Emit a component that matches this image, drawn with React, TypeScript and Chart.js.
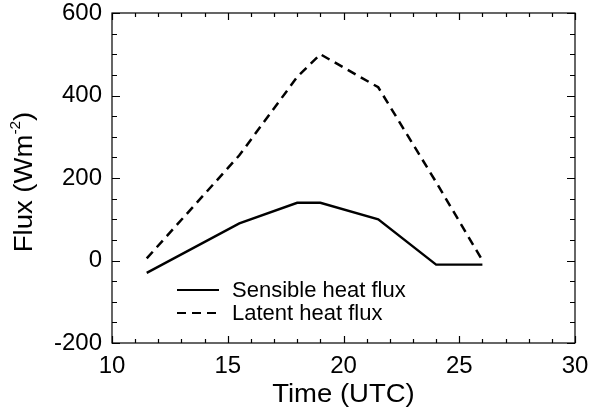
import React, { useEffect, useRef } from 'react';
import { Chart, registerables } from 'chart.js';

Chart.register(...registerables);

const timeUTC = [11.5, 15.5, 18, 19, 21.5, 24, 26];
const sensibleHeatFlux = [-30, 90, 140, 140, 100, -10, -10];
const latentHeatFlux = [5, 255, 445, 500, 420, 190, 0];
const xTickValues = [10, 15, 20, 25, 30];
const yTickValues = [-200, 0, 200, 400, 600];
const xMinorStep = 1;
const yMinorStep = 50;
const seriesNames = ['Sensible heat flux', 'Latent heat flux'];

const FONT = "'Liberation Sans', Arial, Helvetica, sans-serif";
const TITLE_STRETCH = 1.1;

const framePlugin = {
  id: 'framePlugin',
  afterDraw(chart: any) {
    const ctx = chart.ctx;
    const { left, right, top, bottom } = chart.chartArea;
    const xs = chart.scales.x;
    const ys = chart.scales.y;
    ctx.save();
    ctx.strokeStyle = '#000';
    ctx.lineWidth = 1.2;
    ctx.strokeRect(left, top, right - left, bottom - top);
    ctx.beginPath();
    for (let v = xs.min; v <= xs.max + 1e-9; v += xMinorStep) {
      const px = Math.round(xs.getPixelForValue(v)) + 0.5;
      const major = xTickValues.includes(v);
      const len = major ? 7 : 4;
      ctx.moveTo(px, bottom);
      ctx.lineTo(px, bottom - len);
      ctx.moveTo(px, top);
      ctx.lineTo(px, top + len);
    }
    for (let v = ys.min; v <= ys.max + 1e-9; v += yMinorStep) {
      const py = Math.round(ys.getPixelForValue(v)) + 0.5;
      const major = yTickValues.includes(v);
      const len = major ? 8 : 5;
      ctx.moveTo(left, py);
      ctx.lineTo(left + len, py);
      ctx.moveTo(right, py);
      ctx.lineTo(right - len, py);
    }
    ctx.stroke();

    ctx.fillStyle = '#000';
    // y title
    ctx.save();
    ctx.translate(25, 182);
    ctx.rotate(-Math.PI / 2);
    ctx.scale(TITLE_STRETCH, 1);
    ctx.textBaseline = 'middle';
    const big = `25px ${FONT}`;
    const small = `14px ${FONT}`;
    ctx.font = big;
    const p1 = 'Flux (Wm';
    const p3 = ')';
    const w1 = ctx.measureText(p1).width;
    const w3 = ctx.measureText(p3).width;
    ctx.font = small;
    const p2 = '-2';
    const w2 = ctx.measureText(p2).width;
    const total = w1 + w2 + w3;
    const x0 = -total / 2;
    ctx.font = big;
    ctx.textAlign = 'left';
    ctx.fillText(p1, x0, 0);
    ctx.font = small;
    ctx.fillText(p2, x0 + w1, -9);
    ctx.font = big;
    ctx.fillText(p3, x0 + w1 + w2, 0);
    ctx.restore();

    // x title
    ctx.save();
    ctx.translate((left + right) / 2, 395);
    ctx.scale(TITLE_STRETCH, 1);
    ctx.font = `25px ${FONT}`;
    ctx.textAlign = 'center';
    ctx.textBaseline = 'middle';
    ctx.fillText('Time (UTC)', 0, 0);
    ctx.restore();

    // legend
    const lx = left + 65;
    const rows = [top + 277, top + 300];
    ctx.lineWidth = 2.2;
    ctx.font = `22px ${FONT}`;
    ctx.textAlign = 'left';
    ctx.textBaseline = 'middle';
    rows.forEach((ry, i) => {
      ctx.beginPath();
      ctx.setLineDash(i === 0 ? [] : [9, 6]);
      ctx.moveTo(lx, ry);
      ctx.lineTo(lx + 42, ry);
      ctx.stroke();
      ctx.setLineDash([]);
      ctx.fillText(seriesNames[i], lx + 55, ry + 1);
    });
    ctx.restore();
  },
};

export default function App() {
  const ref = useRef<HTMLCanvasElement | null>(null);
  useEffect(() => {
    document.body.style.margin = '0';
    const canvas = ref.current!;
    const chart = new Chart(canvas, {
      type: 'line',
      data: {
        datasets: [
          {
            label: seriesNames[0],
            data: timeUTC.map((t, i) => ({ x: t, y: sensibleHeatFlux[i] })),
            borderColor: '#000',
            borderWidth: 2.4,
            pointRadius: 0,
            fill: false,
            tension: 0,
          },
          {
            label: seriesNames[1],
            data: timeUTC.map((t, i) => ({ x: t, y: latentHeatFlux[i] })),
            borderColor: '#000',
            borderWidth: 2.5,
            borderDash: [9, 6],
            pointRadius: 0,
            fill: false,
            tension: 0,
          },
        ],
      },
      options: {
        animation: false,
        responsive: false,
        maintainAspectRatio: false,
        layout: { autoPadding: false, padding: { left: 0, right: 15, top: 13, bottom: 0 } },
        plugins: { legend: { display: false }, tooltip: { enabled: false } },
        scales: {
          x: {
            type: 'linear',
            min: 10,
            max: 30,
            grid: { display: false, drawTicks: false },
            border: { display: false },
            afterBuildTicks: (s: any) => {
              s.ticks = xTickValues.map((v) => ({ value: v }));
            },
            afterFit: (s: any) => {
              s.height = 72;
              s.paddingLeft = 0;
              s.paddingRight = 0;
              s.paddingTop = 0;
              s.paddingBottom = 0;
            },
            ticks: {
              color: '#000',
              font: { family: FONT, size: 24 },
              padding: 9,
              maxRotation: 0,
            },
          },
          y: {
            type: 'linear',
            min: -200,
            max: 600,
            grid: { display: false, drawTicks: false },
            border: { display: false },
            afterBuildTicks: (s: any) => {
              s.ticks = yTickValues.map((v) => ({ value: v }));
            },
            afterFit: (s: any) => {
              s.width = 112;
              s.paddingLeft = 0;
              s.paddingRight = 0;
              s.paddingTop = 0;
              s.paddingBottom = 0;
            },
            ticks: {
              color: '#000',
              font: { family: FONT, size: 24 },
              padding: 10,
            },
          },
        },
      },
      plugins: [framePlugin],
    });
    return () => chart.destroy();
  }, []);
  return (
    <div style={{ position: 'relative', width: 590, height: 415, background: '#fff' }}>
      <canvas ref={ref} width={590} height={415} style={{ display: 'block' }} />
    </div>
  );
}
